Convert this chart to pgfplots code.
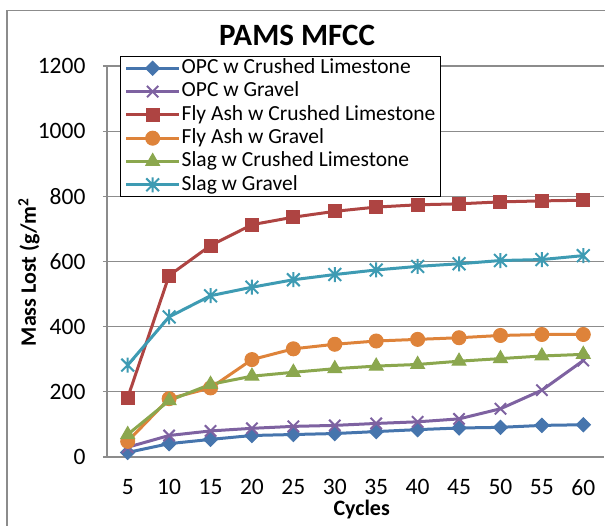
\documentclass[border=0pt]{standalone}
\usepackage{pgfplots}
\pgfplotsset{compat=1.18}
\usepackage{fontspec}
\setmainfont{Carlito}

\definecolor{sBlue}{HTML}{4675AD}
\definecolor{sPurple}{HTML}{7E62A1}
\definecolor{sRed}{HTML}{AE4442}
\definecolor{sOrange}{HTML}{DE833A}
\definecolor{sGreen}{HTML}{8BA74E}
\definecolor{sCyan}{HTML}{3E9BB3}
\definecolor{gridgray}{HTML}{8C8C8C}

% Excel-style star: a vertical bar crossed by an x
\pgfdeclareplotmark{xstar}{%
  \pgfpathmoveto{\pgfqpoint{0pt}{\pgfplotmarksize}}%
  \pgfpathlineto{\pgfqpoint{0pt}{-\pgfplotmarksize}}%
  \pgfpathmoveto{\pgfqpoint{.85\pgfplotmarksize}{.85\pgfplotmarksize}}%
  \pgfpathlineto{\pgfqpoint{-.85\pgfplotmarksize}{-.85\pgfplotmarksize}}%
  \pgfpathmoveto{\pgfqpoint{-.85\pgfplotmarksize}{.85\pgfplotmarksize}}%
  \pgfpathlineto{\pgfqpoint{.85\pgfplotmarksize}{-.85\pgfplotmarksize}}%
  \pgfusepathqstroke}

\pgfplotstableread{
cyc opcL opcG faL faG slL slG
5   14  30  182 48  69  282
10  41  66  557 179 173 430
15  54  80  649 212 223 495
20  66  88  713 299 248 521
25  69  94  736 332 260 544
30  72  97  754 346 271 560
35  78  103 767 356 279 574
40  84  108 774 361 284 585
45  89  117 777 366 294 593
50  91  148 783 373 302 603
55  97  205 786 376 310 606
60  99  296 788 376 315 618
}\massdata

\begin{document}
\begin{tikzpicture}
\useasboundingbox (-107pt,-68pt) rectangle (498pt,457pt);
% chart area frame
\draw[gridgray, line width=1.3pt] (-100pt,-200pt) -- (-100pt,446.5pt) -- (700pt,446.5pt);
\begin{axis}[
  at={(0,0)}, anchor=south west,
  scale only axis, width=497pt, height=391pt,
  xmin=2.5, xmax=62.5, ymin=0, ymax=1200,
  xtick={5,10,...,60}, ytick={0,200,...,1200},
  axis x line=bottom, axis y line=left,
  axis line style={-, draw=gridgray, line width=1.3pt},
  ymajorgrids, grid style={gridgray, line width=1.3pt},
  xtick style={draw=none},
  ytick style={draw=gridgray, line width=1.3pt},
  tick align=outside, major tick length=4pt,
  /pgf/number format/assume math mode=true,
  /pgf/number format/set thousands separator={},
  tick label style={font=\fontsize{23.5}{25}\selectfont},
  xticklabel style={yshift=-15pt},
  yticklabel style={xshift=-14pt},
  every axis plot/.append style={line width=3pt},
  legend style={at={(0.0262,1.0256)}, anchor=north west,
    draw=black, line width=1.3pt, fill=white,
    font=\fontsize{21.5}{23}\selectfont,
    inner xsep=4pt, inner ysep=0pt, row sep=0pt,
    nodes={inner sep=1pt, text height=16pt, text depth=5.3pt},
    /tikz/every even column/.append style={column sep=4pt}},
  legend cell align=left,
  legend image code/.code={%
    \draw[mark repeat=2, mark phase=2] plot coordinates {(0pt,0pt) (26.5pt,0pt) (53pt,0pt)};},
]
\addplot[sBlue, mark=square*, mark size=5pt,
  mark options={rotate=45, line width=1pt, fill=sBlue}]
  table[x=cyc, y=opcL] {\massdata};
\addlegendentry{OPC w Crushed Limestone}
\addplot[sPurple, mark=x, mark size=8pt,
  mark options={line width=2pt}]
  table[x=cyc, y=opcG] {\massdata};
\addlegendentry{OPC w Gravel}
\addplot[sRed, mark=square*, mark size=6.5pt,
  mark options={line width=1pt, fill=sRed}]
  table[x=cyc, y=faL] {\massdata};
\addlegendentry{Fly Ash w Crushed Limestone}
\addplot[sOrange, mark=*, mark size=7pt,
  mark options={line width=1pt, fill=sOrange}]
  table[x=cyc, y=faG] {\massdata};
\addlegendentry{Fly Ash w Gravel}
\addplot[sGreen, mark=triangle*, mark size=8pt,
  mark options={line width=1pt, fill=sGreen}]
  table[x=cyc, y=slL] {\massdata};
\addlegendentry{Slag w Crushed Limestone}
\addplot[sCyan, mark=xstar, mark size=7.5pt,
  mark options={line width=2pt}]
  table[x=cyc, y=slG] {\massdata};
\addlegendentry{Slag w Gravel}
\end{axis}
\node[font=\bfseries\fontsize{31}{34}\selectfont] at (190pt,421.5pt) {PAMS MFCC};
\node[font=\bfseries\fontsize{22}{24}\selectfont, rotate=90] at (-78pt,185pt) {Mass Lost (g/m\textsuperscript{2}};
\node[font=\bfseries\fontsize{22}{24}\selectfont] at (254.7pt,-53pt) {Cycles};
\end{tikzpicture}
\end{document}
